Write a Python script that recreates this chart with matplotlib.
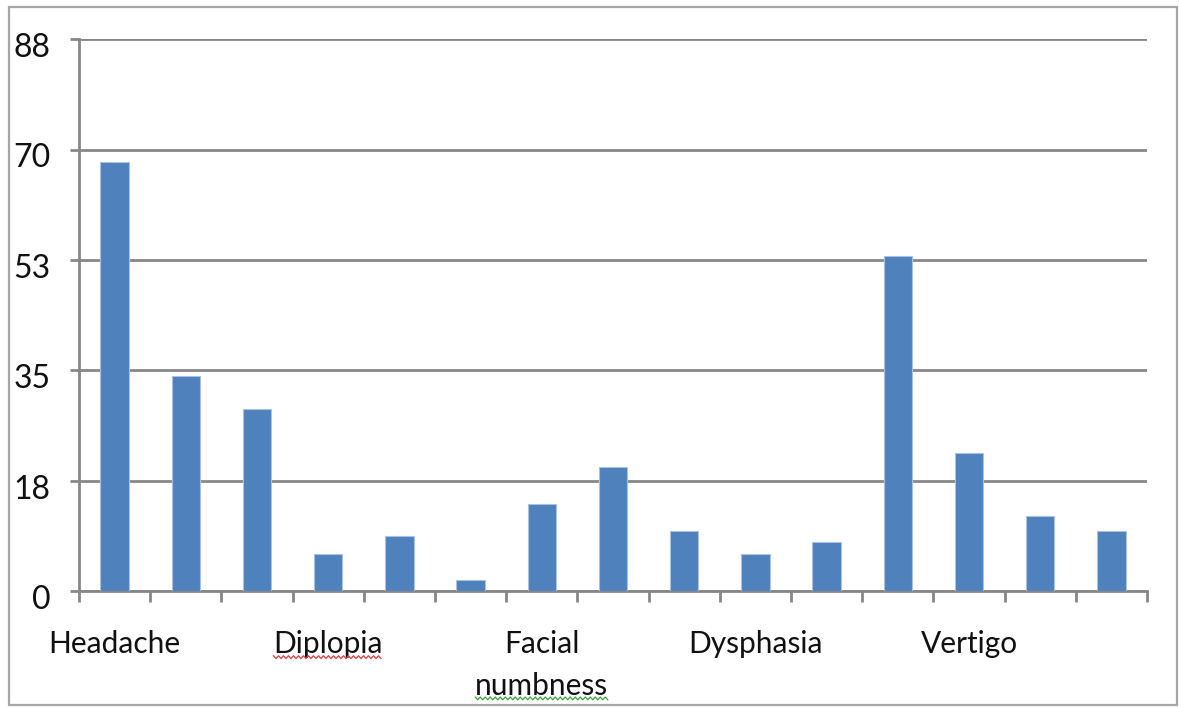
import numpy as np
import matplotlib
matplotlib.use("Agg")
import matplotlib.pyplot as plt
from matplotlib.lines import Line2D
from matplotlib.patches import Rectangle
from matplotlib.transforms import ScaledTranslation

plt.rcParams["font.family"] = ["Lato", "DejaVu Sans"]

# ── Datos ──
sintomas = ["Headache", "", "", "Diplopia", "", "", "Facial\nnumbness", "", "",
            "Dysphasia", "", "", "Vertigo", "", ""]
valores = [68.4, 34.3, 29.0, 6.0, 8.8, 1.9, 13.9, 19.8, 9.7, 6.0, 7.9, 53.4, 22.0, 12.0, 9.7]
y_max = 88
y_etiquetas = ["0", "18", "35", "53", "70", "88"]

GRIS = "#878787"
AZUL = "#4F81BD"
TEXTO = "#111111"

fig = plt.figure(figsize=(11.79, 7.07), dpi=100)
fig.patch.set_facecolor("white")
ax = fig.add_axes([0.067, 0.1634, 0.9059, 0.7814])

x = np.arange(len(valores))
ax.bar(x, valores, width=0.4, color=AZUL, edgecolor="#a9c1e2", linewidth=0.8, zorder=3)

ax.set_xlim(-0.5, len(valores) - 0.5)
ax.set_ylim(0, y_max)

# Ejes y rejilla estilo Excel
y_ticks = np.linspace(0, y_max, len(y_etiquetas))
ax.set_yticks(y_ticks)
ax.set_yticklabels(y_etiquetas, fontsize=23, color=TEXTO)
ax.yaxis.grid(True, color=GRIS, linewidth=2.0, zorder=1)
ax.set_axisbelow(True)
for s in ["top", "right"]:
    ax.spines[s].set_visible(False)
for s in ["left", "bottom"]:
    ax.spines[s].set_color(GRIS)
    ax.spines[s].set_linewidth(2.0)

ax.tick_params(axis="y", direction="out", length=6.5, width=2.0, color=GRIS, pad=14)
desplaza = ScaledTranslation(0, -4 / 72, fig.dpi_scale_trans)
for lbl in ax.get_yticklabels():
    lbl.set_transform(lbl.get_transform() + desplaza)

ax.set_xticks(np.arange(len(valores) + 1) - 0.5)
ax.set_xticklabels([])
ax.tick_params(axis="x", direction="out", length=8, width=2.0, color=GRIS)

# Etiquetas de categoría (una de cada tres, como en Excel)
textos = []
for i, nombre in enumerate(sintomas):
    if nombre:
        t = ax.text(i, -0.07, nombre, transform=ax.get_xaxis_transform(),
                    ha="center", va="top", fontsize=21.5, color=TEXTO,
                    linespacing=1.62)
        textos.append((nombre, t))

# Marco exterior del gráfico
fig.patches.append(Rectangle((9 / 1179, 2 / 707), 1168 / 1179, 698 / 707,
                             transform=fig.transFigure, fill=False,
                             edgecolor="#a6a6a6", linewidth=1.6))

# Subrayado ondulado del corrector ortográfico
fig.canvas.draw()
render = fig.canvas.get_renderer()


def subrayado(x0, x1, y0, color):
    xs = np.arange(x0, x1, 2.5)
    ys = y0 + np.where(np.arange(len(xs)) % 2 == 0, 1.4, -1.4)
    fig.add_artist(Line2D(xs, ys, transform=None, color=color, linewidth=0.9))


for nombre, t in textos:
    bb = t.get_window_extent(render)
    if nombre == "Diplopia":
        subrayado(bb.x0, bb.x1, bb.y0 + 1, "#e23b3b")
    elif nombre.startswith("Facial"):
        subrayado(bb.x0, bb.x1, bb.y0 + 2, "#3da33d")

fig.savefig("out.png", dpi=100, facecolor="white")
